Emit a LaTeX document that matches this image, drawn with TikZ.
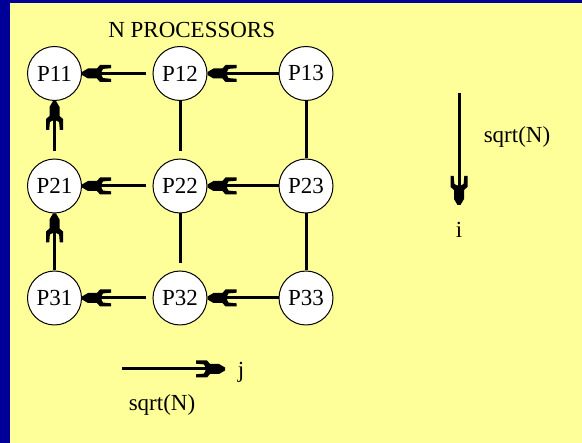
\documentclass[tikz,border=0pt]{standalone}
\usepackage{fontspec}
\setmainfont{Liberation Serif}
\usetikzlibrary{arrows.meta}
\definecolor{bgblue}{RGB}{0,0,153}
\definecolor{bgyellow}{RGB}{255,255,153}
\pgfdeclarearrow{
  name=Fork,
  setup code={
    \pgfarrowssettipend{0pt}
    \pgfarrowssetlineend{-8pt}
    \pgfarrowssetbackend{-29pt}
    \pgfarrowssetvisualbackend{-19pt}
    \pgfarrowsupperhullpoint{0pt}{1.5pt}
    \pgfarrowsupperhullpoint{-29pt}{8.5pt}
  },
  drawing code={
    \pgfpathmoveto{\pgfpoint{0pt}{1.5pt}}
    \pgfpathlineto{\pgfpoint{-6pt}{5pt}}
    \pgfpathlineto{\pgfpoint{-15pt}{5pt}}
    \pgfpathlineto{\pgfpoint{-18pt}{8.5pt}}
    \pgfpathlineto{\pgfpoint{-29pt}{8.5pt}}
    \pgfpathlineto{\pgfpoint{-29pt}{5.3pt}}
    \pgfpathlineto{\pgfpoint{-21pt}{4.6pt}}
    \pgfpathlineto{\pgfpoint{-19.5pt}{1.5pt}}
    \pgfpathlineto{\pgfpoint{-19.5pt}{-1.5pt}}
    \pgfpathlineto{\pgfpoint{-21pt}{-4.6pt}}
    \pgfpathlineto{\pgfpoint{-29pt}{-5.3pt}}
    \pgfpathlineto{\pgfpoint{-29pt}{-8.5pt}}
    \pgfpathlineto{\pgfpoint{-18pt}{-8.5pt}}
    \pgfpathlineto{\pgfpoint{-15pt}{-5pt}}
    \pgfpathlineto{\pgfpoint{-6pt}{-5pt}}
    \pgfpathlineto{\pgfpoint{0pt}{-1.5pt}}
    \pgfpathclose
    \pgfusepathqfill
  }
}
\tikzset{
  proc/.style={circle, draw=black, line width=1pt, fill=white, minimum size=54pt, inner sep=0pt, font=\fontsize{23}{23}\selectfont},
  lbl/.style={font=\fontsize{23}{23}\selectfont, inner sep=0pt},
  link/.style={line width=3pt},
  fork/.style={line width=3pt, -{Fork}}
}
\begin{document}
\begin{tikzpicture}[x=1pt,y=-1pt]
\fill[bgblue] (0,0) rectangle (582,443);
\fill[bgyellow] (10,3) rectangle (582,443);
\useasboundingbox (0,0) rectangle (582,443);

\node[lbl, anchor=base] (title) at (191.7,37.5) {N PROCESSORS};

\node[proc] (P11) at (54.5,73.5) {P11};
\node[proc] (P12) at (180,73.5) {P12};
\node[proc] (P13) at (306,73.5) {P13};
\node[proc] (P21) at (54.5,186) {P21};
\node[proc] (P22) at (180,186) {P22};
\node[proc] (P23) at (306,186) {P23};
\node[proc] (P31) at (54.5,298) {P31};
\node[proc] (P32) at (180,298) {P32};
\node[proc] (P33) at (306,298) {P33};

% horizontal
\draw[fork] (P13) -- (P12);
\draw[fork, shorten <=7pt] (P12) -- (P11);
\draw[fork] (P23) -- (P22);
\draw[fork, shorten <=7pt] (P22) -- (P21);
\draw[fork] (P33) -- (P32);
\draw[fork, shorten <=7pt] (P32) -- (P31);
% vertical
\draw[fork, shorten <=7pt] (P21) -- (P11);
\draw[fork] (P31) -- (P21);
\draw[link, shorten >=7pt] (P12) -- (P22);
\draw[link, shorten >=7pt] (P22) -- (P32);
\draw[link] (P13) -- (P23);
\draw[link] (P23) -- (P33);

% direction i
\coordinate (itop) at (459,93);
\coordinate (ibot) at (459,205);
\draw[fork] (itop) -- (ibot);
\node[lbl] (sqi) at (517,137) {sqrt(N)};
\node[lbl] (ilab) at (459,230) {i};

% direction j
\coordinate (jl) at (122,369);
\coordinate (jr) at (225,369);
\draw[fork] (jl) -- (jr);
\node[lbl] (jlab) at (241,372) {j};
\node[lbl] (sqj) at (162,405) {sqrt(N)};
\end{tikzpicture}
\end{document}
